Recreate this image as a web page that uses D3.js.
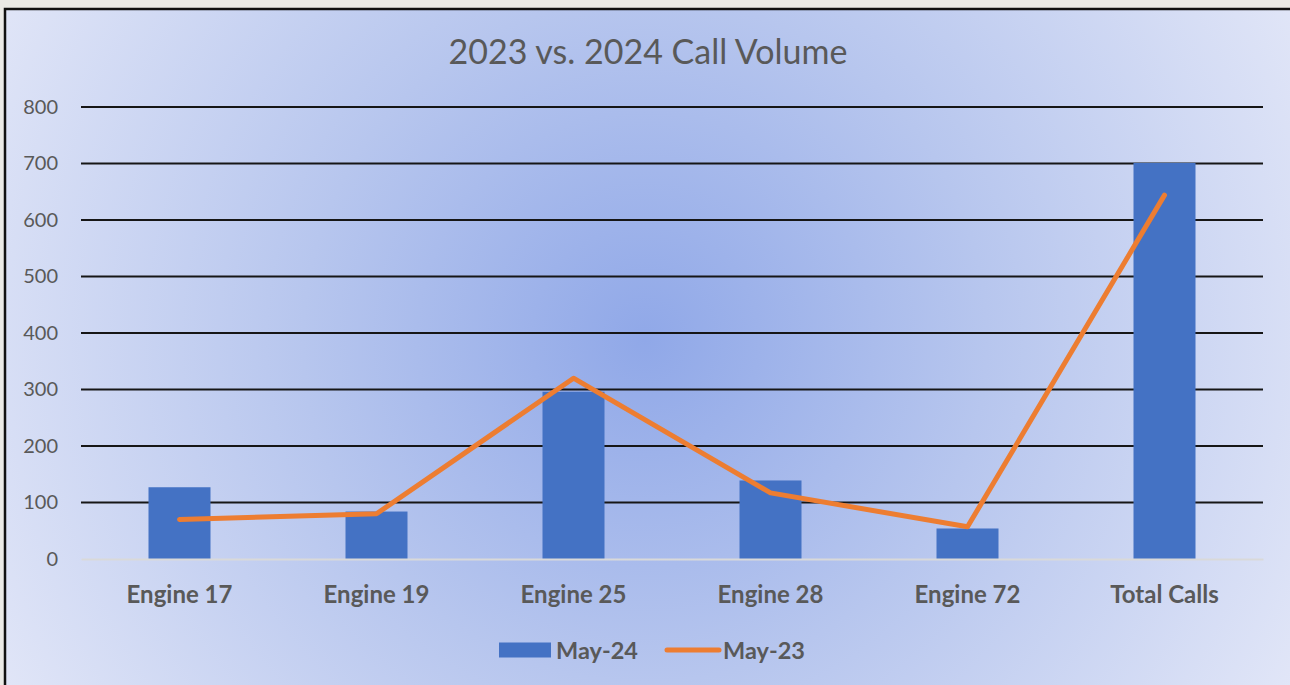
<!DOCTYPE html>
<html>
<head>
<meta charset="utf-8">
<script src="https://cdn.jsdelivr.net/npm/d3@7"></script>
<style>
  body { margin: 0; background: #ebeae6; }
  svg { display: block; }
</style>
</head>
<body>
<div id="chart"></div>
<script>
var categories = ["Engine 17", "Engine 19", "Engine 25", "Engine 28", "Engine 72", "Total Calls"];
var may24 = [127, 84, 296, 139, 54, 701];
var may23 = [70, 80, 320, 117, 57, 644];
var yTicks = [0, 100, 200, 300, 400, 500, 600, 700, 800];

var width = 1290, height = 685;
var margin = {left: 81, right: 27, top: 107, bottom: 126};
var font = "Lato, 'Open Sans', sans-serif";
var textColor = "#595959";

var svg = d3.select("#chart").append("svg")
    .attr("width", width)
    .attr("height", height);

var defs = svg.append("defs");
var grad = defs.append("radialGradient")
    .attr("id", "bg")
    .attr("gradientUnits", "userSpaceOnUse")
    .attr("cx", 645).attr("cy", 340).attr("r", 760);
grad.append("stop").attr("offset", "0").attr("stop-color", "#90a8e8");
grad.append("stop").attr("offset", "0.45").attr("stop-color", "#b7c6ee");
grad.append("stop").attr("offset", "1").attr("stop-color", "#e4e8f8");

// chart area with frame
svg.append("rect")
    .attr("x", 5).attr("y", 9)
    .attr("width", width).attr("height", height)
    .attr("fill", "url(#bg)")
    .attr("stroke", "#111")
    .attr("stroke-width", 2.5);

svg.append("text")
    .attr("x", 648).attr("y", 64)
    .attr("text-anchor", "middle")
    .attr("font-family", font)
    .attr("font-size", 34)
    .attr("fill", textColor)
    .text("2023 vs. 2024 Call Volume");

var xScale = d3.scaleBand()
    .domain(categories)
    .range([margin.left, width - margin.right]);

var yScale = d3.scaleLinear()
    .domain([0, 800])
    .range([height - margin.bottom, margin.top]);

// gridlines
var grid = svg.append("g");
grid.selectAll("line")
    .data(yTicks.filter(function(d) { return d > 0; }))
    .enter().append("line")
    .attr("x1", margin.left)
    .attr("x2", width - margin.right)
    .attr("y1", function(d) { return yScale(d); })
    .attr("y2", function(d) { return yScale(d); })
    .attr("stroke", "#161616")
    .attr("stroke-width", 2);

var y_axis = d3.axisLeft(yScale).tickValues(yTicks).tickSize(0).tickPadding(23);
var yg = svg.append("g")
    .attr("transform", "translate(" + margin.left + ",0)")
    .call(y_axis);
yg.select(".domain").remove();
yg.selectAll("text")
    .attr("font-family", font)
    .attr("font-size", 20)
    .attr("fill", textColor);

// bars
var barW = 62;
svg.append("g").selectAll(".singlebar")
    .data(categories)
    .enter().append("rect")
    .attr("class", "singlebar")
    .attr("fill", "#4472c4")
    .attr("x", function(d) { return xScale(d) + xScale.bandwidth() / 2 - barW / 2; })
    .attr("y", function(d, i) { return yScale(may24[i]); })
    .attr("width", barW)
    .attr("height", function(d, i) { return yScale(0) - yScale(may24[i]); });

// baseline
var x_axis = d3.axisBottom(xScale).tickSize(0).tickPadding(27);
var xg = svg.append("g")
    .attr("transform", "translate(0," + yScale(0) + ")")
    .call(x_axis);
xg.select(".domain").attr("stroke", "#d9d9d9").attr("stroke-width", 2);
xg.selectAll("text")
    .attr("font-family", font)
    .attr("font-size", 24)
    .attr("font-weight", "bold")
    .attr("fill", textColor);

// line
var line = d3.line()
    .x(function(d, i) { return xScale(categories[i]) + xScale.bandwidth() / 2; })
    .y(function(d) { return yScale(d); });
svg.append("path")
    .datum(may23)
    .attr("d", line)
    .attr("fill", "none")
    .attr("stroke", "#ed7d31")
    .attr("stroke-width", 5)
    .attr("stroke-linecap", "round")
    .attr("stroke-linejoin", "round");

// legend
var lg = svg.append("g").attr("transform", "translate(0,650)");
lg.append("rect")
    .attr("x", 499).attr("y", -7.5)
    .attr("width", 52).attr("height", 15)
    .attr("fill", "#4472c4");
lg.append("text")
    .attr("x", 556).attr("y", 8.5)
    .attr("font-family", font).attr("font-size", 23.5).attr("font-weight", "bold")
    .attr("fill", textColor)
    .text("May-24");
lg.append("line")
    .attr("x1", 667).attr("x2", 719)
    .attr("y1", 0).attr("y2", 0)
    .attr("stroke", "#ed7d31").attr("stroke-width", 5)
    .attr("stroke-linecap", "round");
lg.append("text")
    .attr("x", 723).attr("y", 8.5)
    .attr("font-family", font).attr("font-size", 23.5).attr("font-weight", "bold")
    .attr("fill", textColor)
    .text("May-23");
</script>
</body>
</html>
